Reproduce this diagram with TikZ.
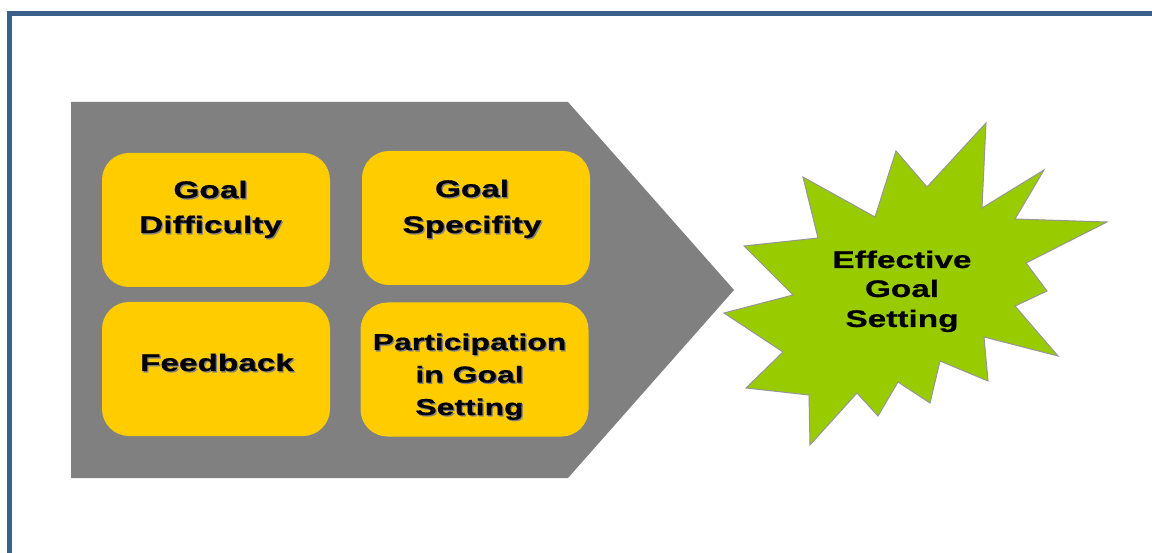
\documentclass[tikz,border=0pt]{standalone}
\usepackage{fontspec}
\newfontfamily\lsb[FakeStretch=1.39,FakeBold=0.5]{Liberation Sans}
\definecolor{framecol}{RGB}{59,94,140}
\definecolor{arrowgray}{RGB}{128,128,128}
\definecolor{boxyellow}{RGB}{255,204,0}
\definecolor{stargreen}{RGB}{153,204,0}
\definecolor{staredge}{RGB}{150,150,150}
\tikzset{
  ybox/.style={fill=boxyellow, draw=none, rounded corners=27pt, minimum width=228pt, minimum height=134pt, inner sep=0pt},
  lbl/.style={anchor=base, inner sep=0pt, font=\lsb\bfseries\fontsize{24}{24}\selectfont},
  lblsm/.style={anchor=base, inner sep=0pt, font=\lsb\bfseries\fontsize{23}{23}\selectfont},
}
\newcommand\shtxt[4]{%
  \node[#1, text=black!50] at ([xshift=1.3pt,yshift=-1.3pt]#2) {#4};
  \node[#1, text=black] (#3) at (#2) {#4};}
\begin{document}
\begin{tikzpicture}[x=1pt,y=-1pt]
\useasboundingbox (0,0) rectangle (1152,553);
\fill[white] (0,0) rectangle (1152,553);
% frame
\draw[framecol, line width=5pt] (9,560) -- (9,13.5) -- (1160,13.5);
% gray arrow
\fill[arrowgray] (71,102) -- (568,102) -- (734,290) -- (568,478) -- (71,478) -- cycle;
% boxes
\node[ybox] (b1) at (216,220) {};
\node[ybox] (b2) at (476,218) {};
\node[ybox] (b3) at (216,369) {};
\node[ybox] (b4) at (474.5,369.5) {};
% starburst
\filldraw[fill=stargreen, draw=staredge, line width=1pt, line join=miter]
 (803,177) -- (875,217) -- (896,151) -- (927,187) -- (986,123) -- (982,208) --
 (1044,170) -- (1015,219) -- (1107,222) -- (1026,263) -- (1047,291) -- (1015,306) --
 (1058,356) -- (984,337) -- (988,381) -- (940,361) -- (930,403) -- (898,382) --
 (878,416) -- (857,393) -- (810,445) -- (809,395) -- (746,388) -- (783,352) --
 (724,313) -- (793,295) -- (744,246) -- (818,238) -- cycle;
% texts
\shtxt{lbl}{210.5,198}{t1a}{Goal}
\shtxt{lbl}{210.5,233}{t1b}{Difficulty}
\shtxt{lbl}{472,197}{t2a}{Goal}
\shtxt{lbl}{472,233}{t2b}{Specifity}
\shtxt{lbl}{217,371}{t3a}{Feedback}
\shtxt{lblsm}{469.5,350}{t4a}{Participation}
\shtxt{lblsm}{469.5,382.5}{t4b}{in Goal}
\shtxt{lblsm}{469.5,415}{t4c}{Setting}
\node[lbl] (s1) at (902,268) {Effective};
\node[lbl] (s2) at (902,297) {Goal};
\node[lbl] (s3) at (902,327) {Setting};
\end{tikzpicture}
\end{document}
